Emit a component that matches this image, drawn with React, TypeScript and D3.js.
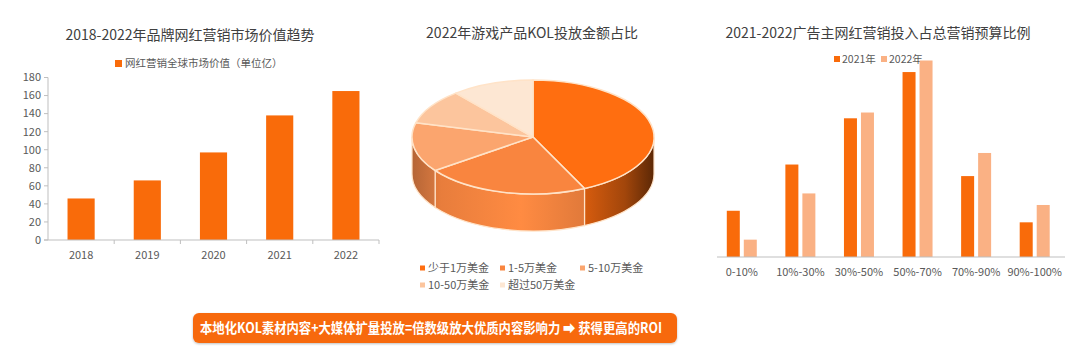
import React from 'react';
import * as d3 from 'd3';

// ---------- data ----------
const years = ['2018', '2019', '2020', '2021', '2022'];
const marketValues = [46, 66, 97, 138, 165];
const leftTicks = [0, 20, 40, 60, 80, 100, 120, 140, 160, 180];

const pieLabels = ['少于1万美金', '1-5万美金', '5-10万美金', '10-50万美金', '超过50万美金'];
const pieValues = [43, 22, 14, 10, 11];

const ratioCats = ['0-10%', '10%-30%', '30%-50%', '50%-70%', '70%-90%', '90%-100%'];
const seriesNames = ['2021年', '2022年'];
const ratio2021 = [8, 16, 24, 32, 14, 6];
const ratio2022 = [3, 11, 25, 34, 18, 9];

const banner = '本地化KOL素材内容+大媒体扩量投放=倍数级放大优质内容影响力 ➡ 获得更高的ROI';

// ---------- styles ----------
const FONT = '"Noto Sans CJK SC", "Noto Sans", sans-serif';
const ORANGE = '#F96B0A';
const LIGHT = '#FAB184';
const AXIS = '#BFBFBF';
const TXT = '#595959';
const TITLE = '#404040';
const pieColors = ['#FF6E10', '#F9853F', '#FBA56E', '#FCC59D', '#FDE7D3'];
const sideColors = ['#E8640F', '#F5843F', '#E88245', '#F0A878', '#F5D5B8'];

export default function App() {
  // ---- left chart ----
  const lx = d3.scaleBand<string>().domain(years).range([48, 379]);
  const ly = d3.scaleLinear().domain([0, 180]).range([240, 77.5]);
  const barW = lx.bandwidth() * 0.41;

  // ---- pie ----
  const cx = 533, cy = 137, rx = 121, ry = 57, depth = 37;
  const arcs = d3.pie<number>().sort(null).startAngle(0).endAngle(Math.PI * 2)(pieValues);
  const P = (a: number, dy = 0) => [cx + rx * Math.sin(a), cy - ry * Math.cos(a) + dy];
  const fmt = (p: number[]) => `${p[0].toFixed(2)},${p[1].toFixed(2)}`;
  const topPath = (a0: number, a1: number) => {
    const large = a1 - a0 > Math.PI ? 1 : 0;
    return `M${cx},${cy}L${fmt(P(a0))}A${rx},${ry} 0 ${large} 1 ${fmt(P(a1))}Z`;
  };
  const sidePath = (a0: number, a1: number) => {
    const s = Math.max(a0, Math.PI / 2), e = Math.min(a1, Math.PI * 1.5);
    if (e <= s) return null;
    return `M${fmt(P(s))}A${rx},${ry} 0 0 1 ${fmt(P(e))}L${fmt(P(e, depth))}A${rx},${ry} 0 0 0 ${fmt(P(s, depth))}Z`;
  };

  // ---- right chart ----
  const rx0 = d3.scaleBand<string>().domain(ratioCats).range([712.5, 1064]);
  const rx1 = d3.scaleBand<string>().domain(seriesNames).range([-15, 15]).paddingInner(0.235);
  const ry2 = d3.scaleLinear().domain([0, 34]).range([257, 60.5]);
  const series = [ratio2021, ratio2022];
  const seriesColors = [ORANGE, LIGHT];

  const shade = (c: string, k: number) => d3.color(c)!.darker(k).formatHex();

  return (
    <svg width={1080} height={357} style={{ position: 'absolute', left: 0, top: 0, background: '#fff' }} fontFamily={FONT}>
      <defs>
        {sideColors.map((c, i) => (
          <linearGradient key={i} id={`side${i}`} gradientUnits="userSpaceOnUse" x1={cx - rx} x2={cx + rx} y1={0} y2={0}>
            <stop offset="0" stopColor={shade(c, 0.7)} />
            <stop offset="0.12" stopColor={shade(c, 0.15)} />
            <stop offset="0.45" stopColor={d3.color(c)!.brighter(0.15).formatHex()} />
            <stop offset="0.72" stopColor={shade(c, 0.25)} />
            <stop offset="0.88" stopColor={shade(c, 1.0)} />
            <stop offset="1" stopColor={shade(c, 2.6)} />
          </linearGradient>
        ))}
        <filter id="sh" x="-5%" y="-30%" width="110%" height="160%">
          <feDropShadow dx="0" dy="1" stdDeviation="1.2" floodColor="#000" floodOpacity="0.25" />
        </filter>
      </defs>

      {/* ===== Left chart ===== */}
      <text x={190} y={40} textAnchor="middle" fontSize={14} fill={TITLE}>2018-2022年品牌网红营销市场价值趋势</text>
      <rect x={115} y={60} width={7} height={7} fill={ORANGE} />
      <text x={125} y={67} fontSize={10.5} fill={TXT}>网红营销全球市场价值（单位亿）</text>
      <line x1={48} x2={48} y1={ly(180)} y2={ly(0)} stroke={AXIS} />
      {leftTicks.map(t => (
        <g key={t}>
          <line x1={44} x2={48} y1={ly(t)} y2={ly(t)} stroke={AXIS} />
          <text x={41} y={ly(t)} dy="0.35em" textAnchor="end" fontSize={11} fill={TXT}>{t}</text>
        </g>
      ))}
      {years.map((yr, i) => (
        <rect key={yr} x={lx(yr)! + (lx.bandwidth() - barW) / 2} y={ly(marketValues[i])} width={barW} height={ly(0) - ly(marketValues[i])} fill={ORANGE} />
      ))}
      <line x1={44} x2={379} y1={ly(0)} y2={ly(0)} stroke={AXIS} />
      {years.map(yr => (
        <line key={yr} x1={lx(yr)! + lx.bandwidth()} x2={lx(yr)! + lx.bandwidth()} y1={ly(0)} y2={ly(0) + 4} stroke={AXIS} />
      ))}
      {years.map(yr => (
        <text key={yr} x={lx(yr)! + lx.bandwidth() / 2} y={255} dy="0.35em" textAnchor="middle" fontSize={11} fill={TXT}>{yr}</text>
      ))}

      {/* ===== Pie ===== */}
      <text x={532} y={38} textAnchor="middle" fontSize={14} fill={TITLE}>2022年游戏产品KOL投放金额占比</text>
      {arcs.map((a, i) => {
        const d = sidePath(a.startAngle, a.endAngle);
        return d ? <path key={'s' + i} d={d} fill={`url(#side${i})`} stroke="#FFE3C8" strokeWidth={1.2} /> : null;
      })}
      {arcs.map((a, i) => (
        <path key={'t' + i} d={topPath(a.startAngle, a.endAngle)} fill={pieColors[i]} stroke="#FFE3C8" strokeWidth={1.5} strokeLinejoin="round" />
      ))}
      {pieLabels.map((lab, i) => {
        const col = i % 3, row = Math.floor(i / 3);
        const x = 420 + col * 80, y = 268 + row * 17;
        return (
          <g key={lab}>
            <rect x={x} y={y - 2.5} width={5} height={5} fill={pieColors[i]} />
            <text x={x + 8} y={y} dy="0.35em" fontSize={11} fill={TXT}>{lab}</text>
          </g>
        );
      })}

      {/* ===== Right chart ===== */}
      <text x={878} y={38} textAnchor="middle" fontSize={14} fill={TITLE}>2021-2022广告主网红营销投入占总营销预算比例</text>
      {seriesNames.map((s, i) => (
        <g key={s}>
          <rect x={834 + i * 47} y={56} width={6} height={6} fill={seriesColors[i]} />
          <text x={842 + i * 47} y={59} dy="0.35em" fontSize={10.5} fill={TXT}>{s}</text>
        </g>
      ))}
      {ratioCats.map((c, ci) => (
        <g key={c}>
          {series.map((vals, si) => (
            <rect key={si} x={rx0(c)! + rx0.bandwidth() / 2 + rx1(seriesNames[si])!} y={ry2(vals[ci])} width={rx1.bandwidth()} height={ry2(0) - ry2(vals[ci])} fill={seriesColors[si]} />
          ))}
          <text x={rx0(c)! + rx0.bandwidth() / 2} y={272} dy="0.35em" textAnchor="middle" fontSize={11} fill={TXT}>{c}</text>
        </g>
      ))}
      <line x1={717} x2={1065} y1={ry2(0)} y2={ry2(0)} stroke={AXIS} />

      {/* ===== Banner ===== */}
      <rect x={193} y={313} width={484} height={30} rx={6} fill="#F7690C" filter="url(#sh)" />
      <text x={431} y={328} dy="0.36em" textAnchor="middle" fontSize={14} fontWeight="bold" fill="#fff" textLength={462} lengthAdjust="spacingAndGlyphs">{banner}</text>
    </svg>
  );
}
